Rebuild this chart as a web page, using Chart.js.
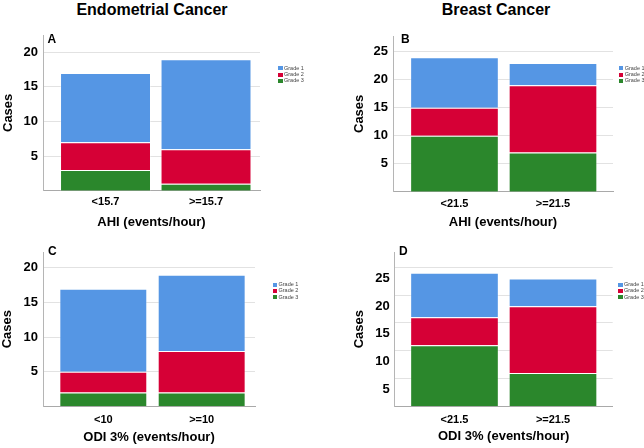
<!DOCTYPE html>
<html>
<head>
<meta charset="utf-8">
<script src="https://cdn.jsdelivr.net/npm/chart.js@4.4.1/dist/chart.umd.min.js"></script>
<style>
  body { margin: 0; background: #fff; font-family: 'Liberation Sans', Arial, sans-serif; }
  #page { position: relative; width: 644px; height: 448px; overflow: hidden; background: #fff; }
  canvas { position: absolute; }
  .title { position: absolute; top: 0; font-size: 16px; line-height: 19px; font-weight: bold; text-align: center; color: #000; }
  .letter { position: absolute; font-size: 12px; line-height: 12px; font-weight: bold; color: #000; }
  .legend { position: absolute; font-size: 5.5px; line-height: 6.3px; color: #444; white-space: nowrap; }
  .legend .sw { display: inline-block; width: 4.5px; height: 4px; margin-right: 1.5px; vertical-align: -0.5px; }
</style>
</head>
<body>
<div id="page">
  <div class="title" style="left:0;width:304px;">Endometrial Cancer</div>
  <div class="title" style="left:346px;width:300px;">Breast Cancer</div>
  <canvas id="chartA" width="322" height="232" style="left:0;top:0;"></canvas>
  <canvas id="chartB" width="322" height="232" style="left:322px;top:0;"></canvas>
  <canvas id="chartC" width="322" height="224" style="left:0;top:224px;"></canvas>
  <canvas id="chartD" width="322" height="224" style="left:322px;top:224px;"></canvas>
</div>
<script>
// grades, stacked bottom to top: Grade 3, Grade 2, Grade 1
const gradeNames = ['Grade 1', 'Grade 2', 'Grade 3'];
const gradeColors = ['#5596e4', '#d60036', '#2b872c'];

// A: endometrial cancer by AHI
const ahiEndoLabels = ['<15.7', '>=15.7'];
const ahiEndoGrade1 = [10, 13];
const ahiEndoGrade2 = [4, 5];
const ahiEndoGrade3 = [3, 1];

// B: breast cancer by AHI
const ahiBreastLabels = ['<21.5', '>=21.5'];
const ahiBreastGrade1 = [9, 4];
const ahiBreastGrade2 = [5, 12];
const ahiBreastGrade3 = [10, 7];

// C: endometrial cancer by ODI 3%
const odiEndoLabels = ['<10', '>=10'];
const odiEndoGrade1 = [12, 11];
const odiEndoGrade2 = [3, 6];
const odiEndoGrade3 = [2, 2];

// D: breast cancer by ODI 3%
const odiBreastLabels = ['<21.5', '>=21.5'];
const odiBreastGrade1 = [8, 5];
const odiBreastGrade2 = [5, 12];
const odiBreastGrade3 = [11, 6];

const endoTicks = [5, 10, 15, 20];
const breastTicks = [5, 10, 15, 20, 25];

Chart.defaults.font.family = "'Liberation Sans', Arial, sans-serif";
Chart.defaults.color = '#000';

const panels = [
  { id: 'A', canvas: 'chartA', left: 0, top: 0, w: 322, h: 232,
    labels: ahiEndoLabels, g1: ahiEndoGrade1, g2: ahiEndoGrade2, g3: ahiEndoGrade3,
    yTicks: endoTicks, yMax: 22.5, xTitle: 'AHI (events/hour)',
    chartLeft: 43, chartRight: 260, chartTop: 35, chartBottom: 190.7, xH: 40,
    xMin: 0.378, xMax: 2.537, bar: 0.905, xPad: 5, yTitlePad: 0.5, labelOffset: 0,
    letterX: 47.5, letterY: 33, legendX: 278, legendY: 64.8 },
  { id: 'B', canvas: 'chartB', left: 322, top: 0, w: 322, h: 232,
    labels: ahiBreastLabels, g1: ahiBreastGrade1, g2: ahiBreastGrade2, g3: ahiBreastGrade3,
    yTicks: breastTicks, yMax: 27.8, xTitle: 'AHI (events/hour)',
    chartLeft: 71, chartRight: 291, chartTop: 36, chartBottom: 191.7, xH: 39,
    xMin: 0.376, xMax: 2.609, bar: 0.9, xPad: 6, yTitlePad: 29.2, labelOffset: 0,
    letterX: 401, letterY: 33, legendX: 618.7, legendY: 64.8 },
  { id: 'C', canvas: 'chartC', left: 0, top: 224, w: 322, h: 224,
    labels: odiEndoLabels, g1: odiEndoGrade1, g2: odiEndoGrade2, g3: odiEndoGrade3,
    yTicks: endoTicks, yMax: 22.3, xTitle: 'ODI 3% (events/hour)',
    chartLeft: 43, chartRight: 255, chartTop: 28, chartBottom: 182.3, xH: 38.5,
    xMin: 0.387, xMax: 2.542, bar: 0.894, xPad: 7, yTitlePad: 0, labelOffset: 0,
    letterX: 48, letterY: 245, legendX: 272.5, legendY: 281 },
  { id: 'D', canvas: 'chartD', left: 322, top: 224, w: 322, h: 224,
    labels: odiBreastLabels, g1: odiBreastGrade1, g2: odiBreastGrade2, g3: odiBreastGrade3,
    yTicks: breastTicks, yMax: 27.75, xTitle: 'ODI 3% (events/hour)',
    chartLeft: 72.7, chartRight: 290.7, chartTop: 28, chartBottom: 182.3, xH: 37.5,
    xMin: 0.393, xMax: 2.606, bar: 0.9, xPad: 7, yTitlePad: 29.2, labelOffset: 11,
    letterX: 399, letterY: 245, legendX: 618, legendY: 281 }
];

function toPoints(values) {
  return values.map((v, i) => ({ x: i + 1, y: v }));
}

function makePanel(p) {
  const series = [p.g3, p.g2, p.g1];
  const colors = [gradeColors[2], gradeColors[1], gradeColors[0]];
  const names = [gradeNames[2], gradeNames[1], gradeNames[0]];
  const datasets = series.map((s, i) => ({
    label: names[i],
    data: toPoints(s),
    backgroundColor: colors[i],
    borderColor: 'rgba(255,255,255,0.35)',
    borderWidth: 1,
    barPercentage: p.bar,
    categoryPercentage: 1
  }));

  new Chart(document.getElementById(p.canvas), {
    type: 'bar',
    data: { datasets: datasets },
    options: {
      responsive: false,
      animation: false,
      devicePixelRatio: 1,
      layout: {
        padding: {
          left: 0,
          top: p.chartTop,
          right: p.w - p.chartRight,
          bottom: p.h - p.chartBottom - p.xH
        }
      },
      plugins: { legend: { display: false }, tooltip: { enabled: false } },
      scales: {
        x: {
          type: 'linear',
          stacked: true,
          offset: false,
          min: p.xMin,
          max: p.xMax,
          afterBuildTicks: (axis) => { axis.ticks = p.labels.map((l, i) => ({ value: i + 1 })); },
          afterFit: (axis) => { axis.height = p.xH; },
          grid: { display: false, drawTicks: false },
          border: { display: true, color: '#a9a9a9', width: 1 },
          ticks: {
            padding: p.xPad,
            font: { size: 11, weight: 'bold' },
            color: '#000',
            callback: (v) => p.labels[v - 1]
          },
          title: {
            display: true,
            text: p.xTitle,
            font: { size: 13, weight: 'bold' },
            color: '#000',
            padding: 0
          }
        },
        y: {
          stacked: true,
          min: 0,
          max: p.yMax,
          afterBuildTicks: (axis) => { axis.ticks = p.yTicks.map(v => ({ value: v })); },
          afterFit: (axis) => { axis.width = p.chartLeft; },
          grid: { color: '#e2e2e2', lineWidth: 1, drawTicks: false },
          border: { display: true, color: '#b5b5b5', width: 1 },
          ticks: {
            padding: 5,
            labelOffset: p.labelOffset,
            font: { size: 13, weight: 'bold' },
            color: '#000'
          },
          title: {
            display: true,
            text: 'Cases',
            font: { size: 13, weight: 'bold' },
            color: '#000',
            padding: { top: p.yTitlePad, bottom: 0 }
          }
        }
      }
    }
  });

  const page = document.getElementById('page');
  const letter = document.createElement('div');
  letter.className = 'letter';
  letter.style.left = p.letterX + 'px';
  letter.style.top = p.letterY + 'px';
  letter.textContent = p.id;
  page.appendChild(letter);

  const legend = document.createElement('div');
  legend.className = 'legend';
  legend.style.left = p.legendX + 'px';
  legend.style.top = p.legendY + 'px';
  gradeNames.forEach((name, i) => {
    const row = document.createElement('div');
    const sw = document.createElement('span');
    sw.className = 'sw';
    sw.style.background = gradeColors[i];
    row.appendChild(sw);
    row.appendChild(document.createTextNode(name));
    legend.appendChild(row);
  });
  page.appendChild(legend);
}

panels.forEach(makePanel);
</script>
</body>
</html>
